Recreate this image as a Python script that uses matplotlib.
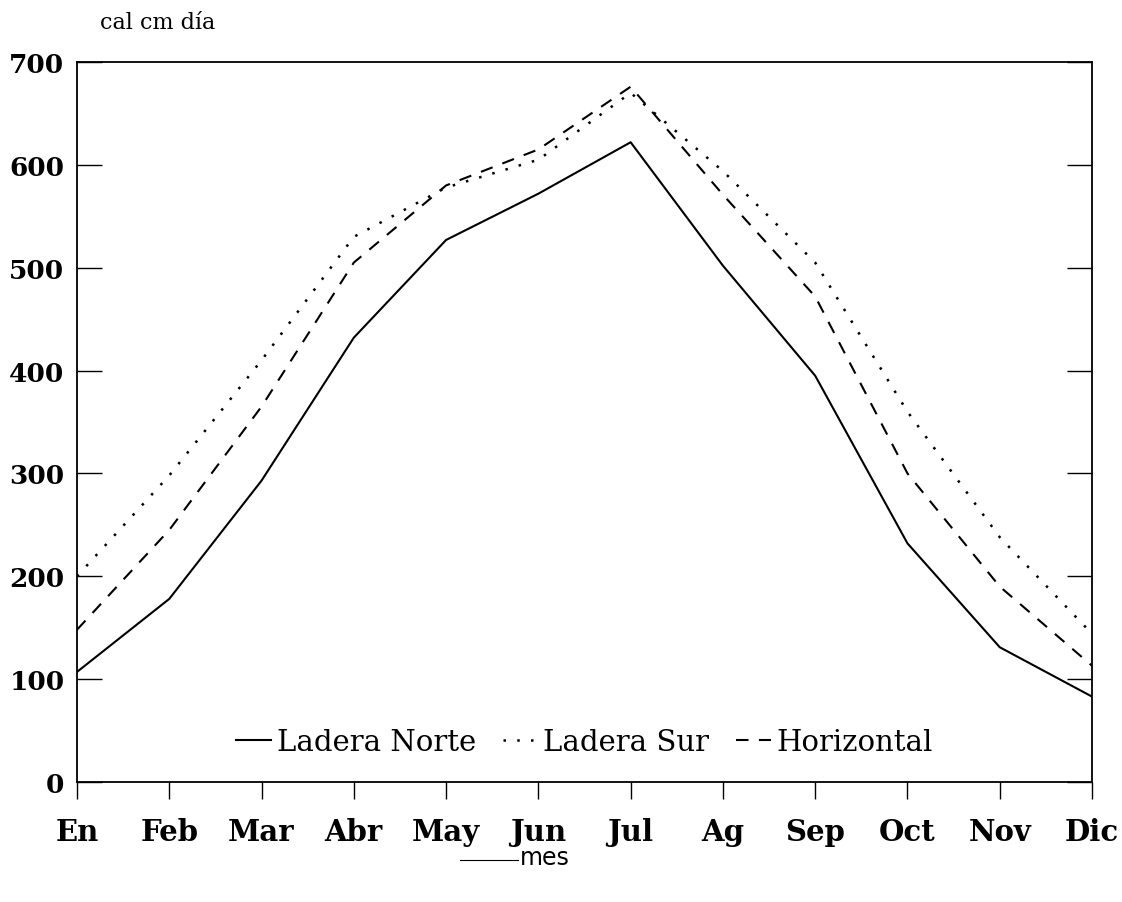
import matplotlib
matplotlib.use("Agg")
import matplotlib.pyplot as plt

meses = ["En", "Feb", "Mar", "Abr", "May", "Jun", "Jul", "Ag", "Sep", "Oct", "Nov", "Dic"]
ladera_norte = [107, 178, 293, 432, 527, 572, 622, 502, 395, 232, 131, 83]
ladera_sur = [200, 298, 410, 530, 578, 605, 670, 594, 505, 360, 238, 144]
horizontal = [148, 245, 365, 505, 580, 615, 676, 571, 472, 300, 190, 113]
y_ticks = [0, 100, 200, 300, 400, 500, 600, 700]

fig = plt.figure(figsize=(11.22, 9.03), dpi=100)
ax = fig.add_axes([0.0686, 0.1329, 0.9047, 0.7973])

x = list(range(len(meses)))
ax.plot(x, ladera_norte, color="black", lw=1.5, ls="-", label="Ladera Norte")
ax.plot(x, ladera_sur, color="black", lw=1.8, ls=(0, (1, 4.5)), label="Ladera Sur")
ax.plot(x, horizontal, color="black", lw=1.5, ls=(0, (6, 5)), label="Horizontal")

ax.set_xlim(0, 11)
ax.set_ylim(0, 700)
ax.set_xticks(x)
ax.set_xticklabels(meses, fontsize=21, fontweight="bold", family="DejaVu Serif")
ax.set_yticks(y_ticks)
ax.set_yticklabels([str(v) for v in y_ticks], fontsize=19, fontweight="bold",
                   family="DejaVu Serif")
ax.tick_params(axis="x", direction="out", length=12, width=1, pad=13)
ax.tick_params(axis="y", direction="in", length=18, width=1, pad=9,
               left=True, right=True)
for s in ax.spines.values():
    s.set_linewidth(1.3)

leg = ax.legend(loc="lower center", bbox_to_anchor=(0.5, 0.0), ncol=3,
                frameon=False, handlelength=1.2, handletextpad=0.2,
                columnspacing=0.9, prop={"family": "DejaVu Serif", "size": 21})

fig.text(0.089, 0.975, "cal cm día", fontsize=16, family="DejaVu Serif",
         ha="left", va="center")
fig.text(0.463, 0.050, "mes", fontsize=17, family="DejaVu Sans",
         ha="left", va="center")
fig.add_artist(plt.Line2D([0.41, 0.462], [0.046, 0.046], color="black", lw=0.8))

fig.savefig("out.png", dpi=100)
